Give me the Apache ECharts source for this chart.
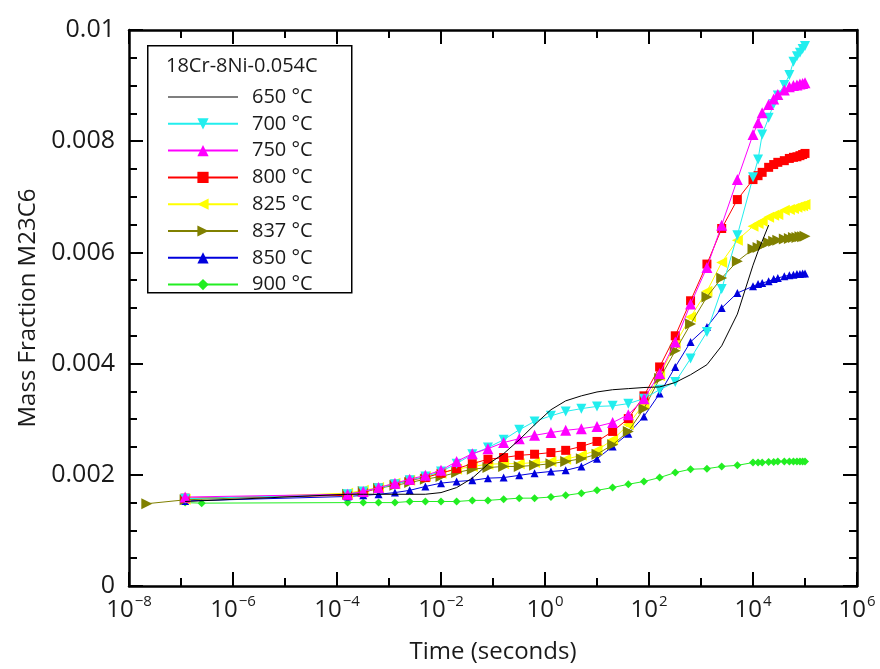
<!DOCTYPE html>
<html>
<head>
<meta charset="utf-8">
<script src="https://cdn.jsdelivr.net/npm/echarts@6/dist/echarts.min.js"></script>
<style>
html, body { margin: 0; padding: 0; background: #fff; }
#chart { width: 880px; height: 669px; }
</style>
</head>
<body>
<div id="chart"></div>
<script>
// time steps (seconds)
const times = [2.2e-8, 1.2e-7, 2.5e-7,
    1.6e-4, 3.2e-4, 6.3e-4, 1.3e-3, 2.5e-3, 5e-3, 1e-2, 2e-2, 4e-2, 8e-2,
    0.16, 0.32, 0.63, 1.3, 2.5, 5, 10, 20, 40, 80,
    160, 320, 630, 1300, 2500, 5000, 10000,
    12500, 15000, 20000, 25000, 30000, 40000, 50000, 60000, 70000, 80000, 90000, 100000];

// mass fraction M23C6 per temperature
const v650 = [null, 0.00152, null,
    0.00165, 0.00165, 0.00165, 0.00165, 0.00165, 0.00165, 0.00168, 0.00177, 0.00194, 0.00219,
    0.00238, 0.00263, 0.0029, 0.00317, 0.00333, 0.00342, 0.00349, 0.00353, 0.00355, 0.00357,
    0.00358, 0.00366, 0.0038, 0.00398, 0.00432, 0.00489, 0.00577,
    0.00602, 0.0062, 0.00649, null, null, null, null, null, null, null, null, null];
const v700 = [null, 0.00157, null,
    0.00165, 0.0017, 0.00176, 0.00183, 0.0019, 0.00197, 0.00206, 0.0022, 0.00237, 0.00249,
    0.00263, 0.00281, 0.00296, 0.00306, 0.00314, 0.00319, 0.00323, 0.00324, 0.00328, 0.00337,
    0.00353, 0.00367, 0.00409, 0.00457, 0.00534, 0.00631, 0.00735,
    0.00767, 0.00812, 0.00842, 0.00867, 0.00882, 0.00901, 0.00919, 0.00943, 0.00953, 0.00959, 0.00966, 0.00971];
const v750 = [null, 0.0016, null,
    0.00165, 0.0017, 0.00177, 0.00185, 0.00192, 0.00199, 0.00208, 0.00224, 0.00238, 0.00247,
    0.00258, 0.00265, 0.00271, 0.00276, 0.0028, 0.00283, 0.00287, 0.00294, 0.00308, 0.00337,
    0.00382, 0.00439, 0.00507, 0.00573, 0.00649, 0.00731, 0.00812,
    0.00833, 0.00851, 0.00866, 0.00876, 0.00884, 0.00892, 0.00898, 0.009, 0.00901, 0.00903, 0.00904, 0.00905];
const v800 = [null, 0.00158, null,
    0.00163, 0.00168, 0.00176, 0.00183, 0.0019, 0.00195, 0.00203, 0.00211, 0.0022, 0.00228,
    0.00231, 0.00235, 0.00237, 0.0024, 0.00244, 0.00251, 0.0026, 0.00278, 0.00301, 0.00342,
    0.00394, 0.0045, 0.00513, 0.00579, 0.00643, 0.00695, 0.00731,
    0.00738, 0.00744, 0.00753, 0.00758, 0.00762, 0.00765, 0.00769, 0.00771, 0.00772, 0.00774, 0.00776, 0.00778];
const v825 = [null, 0.00156, null,
    0.00167, 0.00172, 0.00177, 0.00185, 0.0019, 0.00197, 0.00203, 0.0021, 0.00215, 0.00219,
    0.0022, 0.0022, 0.00222, 0.00224, 0.00228, 0.00235, 0.00244, 0.00263, 0.0029, 0.00328,
    0.00378, 0.00435, 0.00484, 0.0053, 0.00582, 0.00622, 0.00647,
    0.00652, 0.00656, 0.00663, 0.00667, 0.00668, 0.00676, 0.00677, 0.00679, 0.00681, 0.00683, 0.00684, 0.00686];
const v837 = [0.00148, 0.00155, null,
    0.00165, 0.0017, 0.00176, 0.00181, 0.00186, 0.00192, 0.00197, 0.00204, 0.0021, 0.00213,
    0.00215, 0.00215, 0.00217, 0.0022, 0.00224, 0.00229, 0.00237, 0.00254, 0.00278, 0.00319,
    0.00373, 0.00423, 0.00471, 0.0052, 0.00554, 0.00584, 0.00606,
    0.00609, 0.00613, 0.00618, 0.0062, 0.00622, 0.00624, 0.00625, 0.00627, 0.00627, 0.00628, 0.00628, 0.00629];
const v850 = [null, 0.00153, null,
    0.00161, 0.00163, 0.00165, 0.00168, 0.00172, 0.00179, 0.00185, 0.00188, 0.0019, 0.00194,
    0.00195, 0.00199, 0.00203, 0.00206, 0.00208, 0.00215, 0.00229, 0.00251, 0.00274, 0.00305,
    0.00346, 0.00394, 0.00439, 0.00466, 0.005, 0.00527, 0.00539,
    0.00543, 0.00545, 0.00548, 0.00552, 0.00554, 0.00557, 0.00559, 0.0056, 0.00561, 0.00561, 0.00562, 0.00562];
const v900 = [null, 0.0015, 0.00149,
    0.0015, 0.0015, 0.0015, 0.0015, 0.00152, 0.00152, 0.00152, 0.00152, 0.00154, 0.00154,
    0.00156, 0.00158, 0.00158, 0.0016, 0.00163, 0.00167, 0.00172, 0.00177, 0.00183, 0.00188,
    0.00195, 0.00204, 0.0021, 0.00211, 0.00215, 0.00217, 0.00222,
    0.00222, 0.00222, 0.00223, 0.00223, 0.00224, 0.00224, 0.00224, 0.00224, 0.00224, 0.00224, 0.00224, 0.00224];

const legendTitle = '18Cr-8Ni-0.054C';
const font = '"Open Sans", "Noto Sans", sans-serif';

// x axis is the decade exponent of time
function pairs(vals) {
    let out = [];
    times.forEach((t, i) => {
        if (vals[i] != null) out.push([Math.log10(t), vals[i]]);
    });
    return out;
}

function mk(name, vals, color, symbol, size, rotate, z) {
    return {
        name: name,
        type: 'line',
        data: pairs(vals),
        showAllSymbol: true,
        symbol: symbol,
        symbolSize: size,
        symbolRotate: rotate,
        lineStyle: { color: color, width: 1 },
        itemStyle: { color: color },
        emphasis: { disabled: true },
        z: z,
        animation: false
    };
}

function expLabel(v) {
    let e = Math.round(v);
    let s = e < 0 ? '\u2212' + (-e) : '' + e;
    return '{b|10}{s|' + s + '}';
}

const axisLineStyle = { color: '#000', width: 2.5 };
const tickStyle = { color: '#000', width: 2 };

var myChart = echarts.init(document.getElementById('chart'));

let option = {
    backgroundColor: '#fff',
    grid: { left: 129, right: 23, top: 30, bottom: 81 },
    xAxis: [
        {
            type: 'value', min: -8, max: 6, interval: 2, position: 'bottom',
            axisLine: { onZero: false, lineStyle: axisLineStyle },
            axisTick: { inside: true, length: 14, lineStyle: tickStyle },
            minorTick: { show: true, splitNumber: 2, length: 8, lineStyle: tickStyle },
            splitLine: { show: false },
            axisLabel: {
                formatter: expLabel, margin: 6,
                rich: {
                    b: { fontSize: 24, fontFamily: font, color: '#1a1a1a', lineHeight: 30, verticalAlign: 'bottom' },
                    s: { fontSize: 15, fontFamily: font, color: '#1a1a1a', lineHeight: 30, verticalAlign: 'top', padding: [2, 0, 0, 1] }
                }
            },
            name: 'Time (seconds)', nameLocation: 'middle', nameGap: 54,
            nameTextStyle: { fontSize: 24, fontFamily: font, color: '#1a1a1a' }
        },
        {
            type: 'value', min: -8, max: 6, interval: 2, position: 'top',
            axisLine: { onZero: false, lineStyle: axisLineStyle },
            axisTick: { inside: true, length: 14, lineStyle: tickStyle },
            minorTick: { show: true, splitNumber: 2, length: 8, lineStyle: tickStyle },
            splitLine: { show: false },
            axisLabel: { show: false }
        }
    ],
    yAxis: [
        {
            type: 'value', min: 0, max: 0.01, interval: 0.002, position: 'left',
            axisLine: { show: true, onZero: false, lineStyle: axisLineStyle },
            axisTick: { show: true, inside: true, length: 14, lineStyle: tickStyle },
            minorTick: { show: true, splitNumber: 4, length: 8, lineStyle: tickStyle },
            splitLine: { show: false },
            axisLabel: {
                formatter: v => v === 0 ? '0' : String(+v.toFixed(3)),
                fontSize: 25, fontFamily: font, color: '#1a1a1a', margin: 14
            },
            name: 'Mass Fraction M23C6', nameLocation: 'middle', nameGap: 88,
            nameTextStyle: { fontSize: 24, fontFamily: font, color: '#1a1a1a' }
        },
        {
            type: 'value', min: 0, max: 0.01, interval: 0.002, position: 'right',
            axisLine: { show: true, onZero: false, lineStyle: axisLineStyle },
            axisTick: { show: true, inside: true, length: 14, lineStyle: tickStyle },
            minorTick: { show: true, splitNumber: 4, length: 8, lineStyle: tickStyle },
            splitLine: { show: false },
            axisLabel: { show: false }
        }
    ],
    graphic: [
        {
            type: 'rect', left: 147, top: 45, z: 3,
            shape: { width: 204, height: 247 },
            style: { fill: '#fff', stroke: '#000', lineWidth: 1.5 }
        },
        {
            type: 'text', left: 166, top: 56, z: 4,
            style: { text: legendTitle, font: '20px ' + font, fill: '#1a1a1a' }
        }
    ],
    legend: {
        orient: 'vertical', left: 162, top: 82,
        itemWidth: 70, itemHeight: 14, itemGap: 6.8,
        formatter: name => '{p|}' + name,
        textStyle: {
            fontSize: 20, fontFamily: font, color: '#1a1a1a',
            rich: { p: { width: 9 } }
        },
        data: [
            { name: '650 °C', icon: 'path://M0,0L70,0L70,1.2L0,1.2Z' },
            '700 °C', '750 °C', '800 °C', '825 °C', '837 °C', '850 °C', '900 °C'
        ]
    },
    series: [
        mk('900 °C', v900, '#22ee22', 'diamond', 8, 0, 2),
        mk('850 °C', v850, '#0000dd', 'triangle', 8, 0, 3),
        mk('837 °C', v837, '#808000', 'triangle', 11, -90, 4),
        mk('825 °C', v825, '#ffff00', 'triangle', 11, 90, 3),
        mk('800 °C', v800, '#ff0000', 'rect', 9, 0, 4),
        mk('750 °C', v750, '#ff00ff', 'triangle', 11, 0, 5),
        mk('700 °C', v700, '#22eeee', 'triangle', 10, 180, 4),
        mk('650 °C', v650, '#000000', 'none', 6, 0, 6)
    ]
};

myChart.setOption(option);
</script>
</body>
</html>
